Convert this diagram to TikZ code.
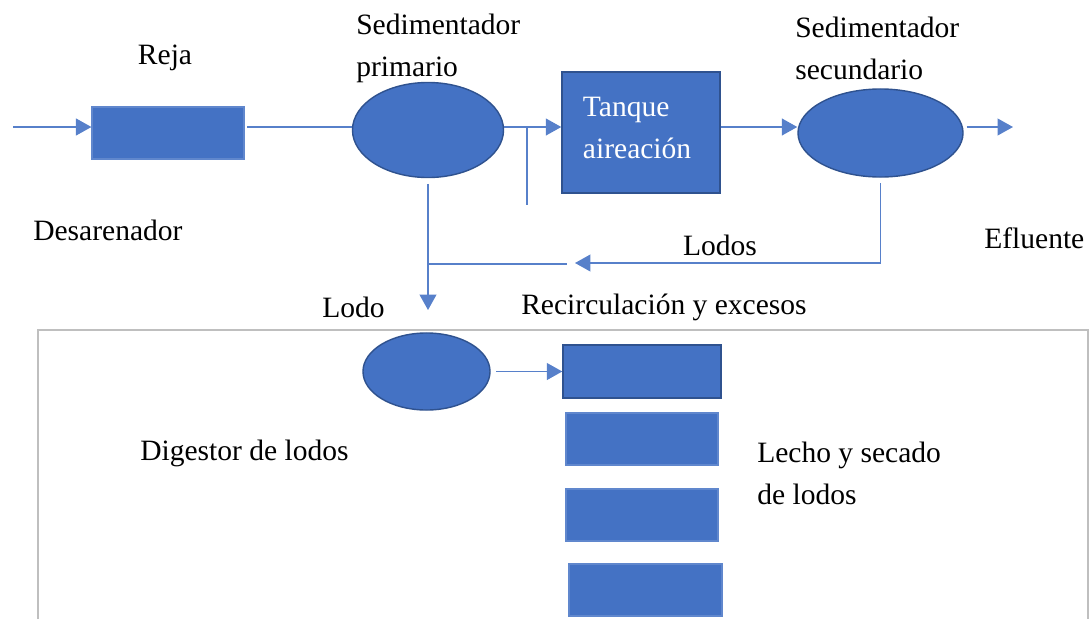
\documentclass[tikz,border=0pt]{standalone}
\usepackage{fontspec}
\setmainfont{Liberation Serif}
\usetikzlibrary{shapes.geometric,arrows.meta}

\definecolor{azul}{HTML}{4472C4}
\definecolor{azulosc}{HTML}{2F528F}
\definecolor{marco}{HTML}{BFBFBF}

\tikzset{
  linea/.style={azul!90!white,line width=1.1pt},
  flujo/.style={linea,-{Triangle[length=11pt,width=12pt]}},
  caja/.style={rectangle,fill=azul,draw=azul!85!white,line width=0.8pt,inner sep=0pt},
  cajaosc/.style={caja,draw=azulosc,line width=1pt},
  tanqueel/.style={ellipse,fill=azul,draw=azulosc,line width=1pt,inner sep=0pt},
  rotulo/.style={inner sep=0pt,align=left}
}

\begin{document}
\begin{tikzpicture}[x=0.025cm,y=-0.025cm,font=\fontsize{21}{30}\selectfont]
    \useasboundingbox (0,0) rectangle (1091,619);

    % Marco inferior
    \draw[marco,line width=0.8pt] (38,619) -- (38,330) -- (1088,330) -- (1088,619);

    % Unidades de la linea de agua
    \node[caja,minimum width=3.8cm,minimum height=1.3cm] (reja) at (168,133) {};
    \node[tanqueel,minimum width=3.775cm,minimum height=2.375cm] (sp) at (428,130) {};
    \node[cajaosc,minimum width=3.95cm,minimum height=3.025cm,text=white,
          align=left,text width=2.9cm] (tanque) at (641,132.5) {Tanque\\aireación\rule[-7pt]{0pt}{7pt}};
    \node[tanqueel,minimum width=4.125cm,minimum height=2.2cm] (ss) at (880.5,133) {};

    % Unidades de la linea de lodos
    \node[tanqueel,minimum width=3.175cm,minimum height=1.925cm] (dig) at (426.5,371.5) {};
    \node[cajaosc,minimum width=3.95cm,minimum height=1.325cm] (lecho1) at (642,371.5) {};
    \node[caja,minimum width=3.8cm,minimum height=1.3cm] (lecho2) at (642,439) {};
    \node[caja,minimum width=3.8cm,minimum height=1.3cm] (lecho3) at (642,515) {};
    \node[caja,minimum width=3.825cm,minimum height=1.3cm] (lecho4) at (645.5,590) {};

    % Linea de agua
    \coordinate (ent) at (13,127);
    \draw[flujo] (ent) -- (ent -| reja.west);
    \draw[linea,shorten <=2pt] (ent -| reja.east) -- (ent -| sp.west);
    \draw[flujo] (ent -| sp.east) -- (ent -| tanque.west);
    \coordinate (deriv) at (527,205);
    \draw[linea] (deriv |- ent) -- (deriv);
    \draw[flujo] (ent -| tanque.east) -- (ent -| ss.west);
    \coordinate (sal) at (1013,127);
    \draw[flujo,shorten <=2pt] (sal -| ss.east) -- (sal);

    % Lodo primario
    \coordinate (lodo) at (428,310);
    \draw[flujo,shorten <=4pt] (sp.south) -- (sp.south |- lodo);
    \coordinate (union) at (567,264);
    \draw[linea] (union -| sp.south) -- (union);

    % Lodos del secundario
    \coordinate (retorno) at (575,263);
    \draw[flujo,shorten <=4pt] (ss.south) -- (ss.south |- retorno) -- (retorno);

    % Digestor a lechos
    \draw[flujo,shorten <=4pt] (dig.east) -- (lecho1.west);

    % Rotulos
    \node[rotulo] (treja) at (165,58) {Reja};
    \node[rotulo,anchor=west] (tsp) at (356,48) {Sedimentador\\primario};
    \node[rotulo,anchor=west] (tss) at (795,48) {Sedimentador\\secundario};
    \node[rotulo,anchor=west] (tdes) at (33,230) {Desarenador};
    \node[rotulo,anchor=west] (tefl) at (984,238) {Efluente};
    \node[rotulo] (tlodos) at (720,245) {Lodos};
    \node[rotulo,anchor=west] (tlodo) at (322,307) {Lodo};
    \node[rotulo,anchor=west] (trec) at (521,307) {Recirculación y excesos};
    \node[rotulo,anchor=west] (tdig) at (140,453) {Digestor de lodos};
    \node[rotulo,anchor=west] (tlecho) at (757,473) {Lecho y secado\\de lodos};
\end{tikzpicture}
\end{document}
